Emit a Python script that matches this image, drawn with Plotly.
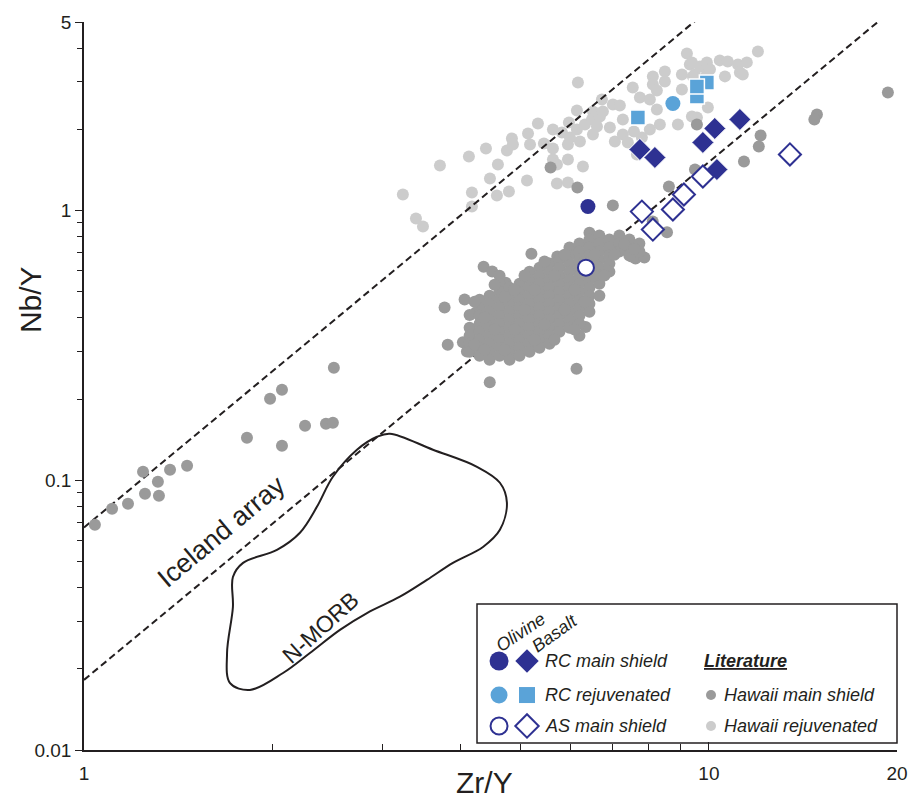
import math
import plotly.graph_objects as go

# ---------------- data ----------------
# Hawaii main shield (literature)
hawaii_main_x = [
    1.041, 1.109, 1.176, 1.243, 1.252, 1.313, 1.318, 1.373, 1.462, 1.823, 1.985, 2.074, 2.074, 2.258, 2.439, 2.502, 2.511,
    5.58, 6.16, 9.568, 9.50, 11.38, 12.02, 12.1, 14.89, 14.75, 19.34, 8.63, 8.13, 8.57, 7.02, 6.44,
    3.776, 4.065, 3.82, 4.36, 5.20, 5.72, 6.14, 4.46, 7.52, 7.63, 6.35, 4.04, 4.10, 4.234, 4.50, 4.73, 4.141, 7.884,
    4.141, 4.141, 4.141, 4.141,
    4.296, 4.296, 4.296, 4.296, 4.296, 4.296, 4.296, 4.296,
    4.457, 4.457, 4.457, 4.457, 4.457, 4.457, 4.457, 4.457, 4.457,
    4.624, 4.624, 4.624, 4.624, 4.624, 4.624, 4.624, 4.624, 4.624, 4.624, 4.624,
    4.798, 4.798, 4.798, 4.798, 4.798, 4.798, 4.798, 4.798, 4.798, 4.798,
    4.977, 4.977, 4.977, 4.977, 4.977, 4.977, 4.977, 4.977, 4.977, 4.977,
    5.164, 5.164, 5.164, 5.164, 5.164, 5.164, 5.164, 5.164, 5.164, 5.164, 5.164,
    5.357, 5.357, 5.357, 5.357, 5.357, 5.357, 5.357, 5.357, 5.357, 5.357, 5.357,
    5.558, 5.558, 5.558, 5.558, 5.558, 5.558, 5.558, 5.558, 5.558, 5.558, 5.558,
    5.766, 5.766, 5.766, 5.766, 5.766, 5.766, 5.766, 5.766, 5.766, 5.766,
    5.983, 5.983, 5.983, 5.983, 5.983, 5.983, 5.983, 5.983, 5.983, 5.983, 5.983,
    6.206, 6.206, 6.206, 6.206, 6.206, 6.206, 6.206, 6.206, 6.206, 6.206, 6.206, 6.206,
    6.439, 6.439, 6.439, 6.439, 6.439, 6.439, 6.439, 6.439, 6.439, 6.439,
    6.680, 6.680, 6.680, 6.680, 6.680, 6.680, 6.680, 6.680,
    6.931, 6.931, 6.931, 6.931, 6.931,
    7.190, 7.190, 7.190,
    7.460, 7.460, 7.460,
    7.740, 7.740,
    4.218, 4.218, 4.376, 4.376, 4.540, 4.540, 4.710, 4.710, 4.887, 4.887, 5.070, 5.070, 5.260, 5.260,
    5.457, 5.457, 5.661, 5.661, 5.874, 5.874, 6.094, 6.094, 6.322, 6.322, 6.559, 6.559, 6.805, 7.060,
    7.325, 7.599,
]
hawaii_main_y = [
    0.0684, 0.0784, 0.0818, 0.1075, 0.0891, 0.0987, 0.0876, 0.1094, 0.1132, 0.1438, 0.2006, 0.2167, 0.1343, 0.1593, 0.1621, 0.1634, 0.2615,
    1.444, 1.217, 2.085, 1.419, 1.52, 1.728, 1.898, 2.271, 2.176, 2.741, 1.228, 0.91, 0.83, 1.045, 0.828,
    0.437, 0.4675, 0.318, 0.619, 0.692, 0.675, 0.259, 0.231, 0.675, 0.664, 0.37, 0.325, 0.300, 0.418, 0.594, 0.54, 0.41, 0.670,
    0.3678, 0.3435, 0.3208, 0.2996,
    0.4672, 0.4363, 0.4075, 0.3806, 0.3554, 0.3319, 0.3100, 0.2895,
    0.4835, 0.4515, 0.4217, 0.3938, 0.3678, 0.3435, 0.3208, 0.2996, 0.2798,
    0.5736, 0.5357, 0.5003, 0.4672, 0.4363, 0.4075, 0.3806, 0.3554, 0.3319, 0.3100, 0.2895,
    0.5177, 0.4835, 0.4515, 0.4217, 0.3938, 0.3678, 0.3435, 0.3208, 0.2996, 0.2798,
    0.5357, 0.5003, 0.4672, 0.4363, 0.4075, 0.3806, 0.3554, 0.3319, 0.3100, 0.2895,
    0.5936, 0.5543, 0.5177, 0.4835, 0.4515, 0.4217, 0.3938, 0.3678, 0.3435, 0.3208, 0.2996,
    0.6142, 0.5736, 0.5357, 0.5003, 0.4672, 0.4363, 0.4075, 0.3806, 0.3554, 0.3319, 0.3100,
    0.6356, 0.5936, 0.5543, 0.5177, 0.4835, 0.4515, 0.4217, 0.3938, 0.3678, 0.3435, 0.3208,
    0.6577, 0.6142, 0.5736, 0.5357, 0.5003, 0.4672, 0.4363, 0.4075, 0.3806, 0.3554,
    0.7288, 0.6806, 0.6356, 0.5936, 0.5543, 0.5177, 0.4835, 0.4515, 0.4217, 0.3938, 0.3678,
    0.7542, 0.7043, 0.6577, 0.6142, 0.5736, 0.5357, 0.5003, 0.4672, 0.4363, 0.4075, 0.3806, 0.3435,
    0.7804, 0.7288, 0.6806, 0.6356, 0.5936, 0.5543, 0.5177, 0.4835, 0.4515, 0.4217,
    0.8076, 0.7542, 0.7043, 0.6577, 0.6142, 0.5736, 0.5357, 0.4835,
    0.7804, 0.7288, 0.6806, 0.6356, 0.5936,
    0.8076, 0.7542, 0.7043,
    0.7804, 0.7288, 0.6806,
    0.7542, 0.7043,
    0.459, 0.318, 0.305, 0.401, 0.531, 0.362, 0.479, 0.305, 0.509, 0.362, 0.574, 0.429, 0.332, 0.509,
    0.647, 0.378, 0.574, 0.332, 0.686, 0.429, 0.509, 0.362, 0.647, 0.459, 0.574, 0.686, 0.574, 0.686,
    0.750, 0.720,
]

# Hawaii rejuvenated (literature)
hawaii_rejuv_x = [
    3.238, 3.398, 3.487, 3.712, 4.130, 4.176, 4.176, 4.398, 4.463, 4.579, 4.596, 4.751, 4.786, 4.839, 4.857,
    5.135, 5.116, 5.173, 5.326, 5.445, 5.629, 5.629, 5.629, 5.712, 5.712, 5.819, 5.949, 5.949, 5.949, 5.970,
    5.992, 6.149, 6.149, 6.172, 6.287, 6.333, 6.218, 6.523, 6.499, 6.523, 6.620, 6.693, 6.742, 6.767, 6.943,
    7.020, 7.203, 7.072, 7.283, 7.283, 7.419, 7.554, 7.586, 7.755, 7.812, 8.045, 8.045, 8.135, 8.135, 8.256,
    8.256, 8.347, 8.503, 8.503, 8.921, 9.054, 9.054, 9.222, 9.323, 9.393, 9.428, 9.393, 9.568, 9.497, 9.674,
    9.926, 9.926, 9.963, 10.04, 10.41, 10.61, 10.72, 11.13, 11.21, 11.33, 11.50, 11.98, 7.670,
]
hawaii_rejuv_y = [
    1.147, 0.934, 0.872, 1.469, 1.586, 1.166, 1.035, 1.699, 1.314, 1.137, 1.481, 1.670, 1.176, 1.850, 1.758,
    1.930, 1.292, 1.758, 2.103, 1.772, 1.998, 1.699, 1.546, 1.481, 1.259, 1.947, 1.758, 1.546, 1.270, 2.121,
    1.866, 2.350, 1.998, 2.985, 1.457, 2.085, 1.803, 2.330, 2.176, 1.914, 2.050, 2.233, 2.581, 2.330, 2.032,
    2.474, 2.453, 1.803, 2.176, 1.914, 1.788, 2.860, 1.964, 2.626, 1.866, 2.581, 1.998, 3.143, 2.934, 2.788,
    2.370, 2.085, 3.280, 3.010, 2.085, 3.197, 2.812, 3.824, 3.481, 3.542, 3.143, 2.233, 2.214, 3.197, 3.422,
    3.542, 3.197, 2.411, 3.337, 3.603, 3.143, 3.572, 3.481, 3.252, 3.197, 3.542, 3.890, 1.614,
]

# This study
rc_main_ol_x = [6.404]
rc_main_ol_y = [1.035]
rc_main_bas_x = [7.755, 8.196, 9.781, 10.22, 11.21, 10.30]
rc_main_bas_y = [1.684, 1.573, 1.788, 2.015, 2.176, 1.419]
rc_rej_ol_x = [8.758]
rc_rej_ol_y = [2.495]
rc_rej_bas_x = [9.926, 9.568, 9.568, 7.698]
rc_rej_bas_y = [2.985, 2.649, 2.885, 2.214]
as_main_ol_x = [6.357]
as_main_ol_y = [0.614]
as_main_bas_x = [7.812, 8.135, 8.758, 9.120, 9.781, 13.48]
as_main_bas_y = [0.991, 0.850, 1.009, 1.147, 1.337, 1.614]

# N-MORB field outline
nmorb_x = [3.088, 3.617, 4.255, 4.630, 4.751, 4.630, 4.350, 3.894, 3.538, 3.203, 2.837, 2.568, 2.299, 2.082,
           1.843, 1.713, 1.694, 1.731, 1.731, 1.797, 2.036, 2.216, 2.359, 2.502, 2.734, 2.944, 3.088]
nmorb_y = [0.1488, 0.1298, 0.1122, 0.0979, 0.0825, 0.0655, 0.0566, 0.0494, 0.0427, 0.0370, 0.0322, 0.0279, 0.0229, 0.0193,
           0.0167, 0.0177, 0.0229, 0.0339, 0.0438, 0.0494, 0.0552, 0.0639, 0.0797, 0.1030, 0.1298, 0.1450, 0.1488]

# Iceland array bounding lines: log(Nb/Y) = slope*log(Zr/Y) + intercept
iceland_slope = 1.92
iceland_intercepts = [-1.175, -1.74]

x_range = [1, 20]
y_range = [0.01, 5]
x_tick_vals = [1, 10, 20]
x_minor_vals = [2, 3, 4, 5, 6, 7, 8, 9]
y_tick_vals = [0.01, 0.1, 1, 5]
y_minor_vals = [0.02, 0.03, 0.04, 0.05, 0.06, 0.07, 0.08, 0.09, 0.2, 0.3, 0.4, 0.5, 0.6, 0.7, 0.8, 0.9, 2, 3, 4]

# ---------------- styles ----------------
FONT = "Liberation Sans, Arial, Helvetica, sans-serif"
NAVY = "#2e3192"
LBLUE = "#5aa3d8"
DGREY = "#9a9a9a"
LGREY = "#cccccc"
INK = "#231f20"
DOT = 12

fig = go.Figure()

fig.add_trace(go.Scatter(x=hawaii_rejuv_x, y=hawaii_rejuv_y, mode="markers",
                         marker=dict(size=DOT, color=LGREY, line=dict(width=0)), hoverinfo="skip"))

for b in iceland_intercepts:
    xs = [x_range[0], x_range[1]]
    ys = [10 ** (b + iceland_slope * math.log10(v)) for v in xs]
    fig.add_trace(go.Scatter(x=xs, y=ys, mode="lines",
                             line=dict(color=INK, width=2, dash="7px,4px"), hoverinfo="skip"))

fig.add_trace(go.Scatter(x=hawaii_main_x, y=hawaii_main_y, mode="markers",
                         marker=dict(size=DOT, color=DGREY, line=dict(width=0)), hoverinfo="skip"))

fig.add_trace(go.Scatter(x=nmorb_x, y=nmorb_y, mode="lines",
                         line=dict(color=INK, width=2, shape="spline", smoothing=1.0), hoverinfo="skip"))

fig.add_trace(go.Scatter(x=rc_rej_bas_x, y=rc_rej_bas_y, mode="markers",
                         marker=dict(symbol="square", size=15, color=LBLUE, line=dict(width=1.5, color="white"))))
fig.add_trace(go.Scatter(x=rc_rej_ol_x, y=rc_rej_ol_y, mode="markers",
                         marker=dict(symbol="circle", size=15, color=LBLUE, line=dict(width=0))))
fig.add_trace(go.Scatter(x=rc_main_bas_x, y=rc_main_bas_y, mode="markers",
                         marker=dict(symbol="diamond", size=17, color=NAVY, line=dict(width=1, color="white"))))
fig.add_trace(go.Scatter(x=rc_main_ol_x, y=rc_main_ol_y, mode="markers",
                         marker=dict(symbol="circle", size=15, color=NAVY, line=dict(width=0))))
fig.add_trace(go.Scatter(x=as_main_bas_x, y=as_main_bas_y, mode="markers",
                         marker=dict(symbol="diamond", size=17, color="white", line=dict(width=2, color=NAVY))))
fig.add_trace(go.Scatter(x=as_main_ol_x, y=as_main_ol_y, mode="markers",
                         marker=dict(symbol="circle", size=16, color="white", line=dict(width=2, color=NAVY))))

# ---------------- legend box (drawn in overlay axes 0..1) ----------------
leg_rows = [0.1223, 0.0755, 0.0330]
leg_col_ol = 0.5105
leg_col_bas = 0.5449
leg_col_lit = 0.7712

legend_markers = [
    (leg_col_ol, leg_rows[0], dict(symbol="circle", size=19, color=NAVY, line=dict(width=0))),
    (leg_col_bas, leg_rows[0], dict(symbol="diamond", size=18, color=NAVY, line=dict(width=0))),
    (leg_col_ol, leg_rows[1], dict(symbol="circle", size=17, color=LBLUE, line=dict(width=0))),
    (leg_col_bas, leg_rows[1], dict(symbol="square", size=16, color=LBLUE, line=dict(width=0))),
    (leg_col_ol, leg_rows[2], dict(symbol="circle", size=17, color="white", line=dict(width=2, color=NAVY))),
    (leg_col_bas, leg_rows[2], dict(symbol="diamond", size=18, color="white", line=dict(width=2, color=NAVY))),
    (leg_col_lit, leg_rows[1], dict(symbol="circle", size=10, color=DGREY, line=dict(width=0))),
    (leg_col_lit, leg_rows[2], dict(symbol="circle", size=10, color=LGREY, line=dict(width=0))),
]
for lx, ly, mk in legend_markers:
    fig.add_trace(go.Scatter(x=[lx], y=[ly], mode="markers", marker=mk, xaxis="x2", yaxis="y2",
                             hoverinfo="skip"))

fig.add_shape(type="rect", xref="paper", yref="paper", x0=0.4834, x1=1.0, y0=0.0096, y1=0.2005,
              line=dict(color=INK, width=1.5), fillcolor="rgba(255,255,255,0)")

ann_font = dict(family=FONT, size=18, color=INK)
legend_texts = [
    (0.5640, leg_rows[0], "<i>RC main shield</i>"),
    (0.5640, leg_rows[1], "<i>RC rejuvenated</i>"),
    (0.5640, leg_rows[2], "<i>AS main shield</i>"),
    (0.7600, leg_rows[0], "<b><i><u>Literature</u></i></b>"),
    (0.7845, leg_rows[1], "<i>Hawaii main shield</i>"),
    (0.7845, leg_rows[2], "<i>Hawaii rejuvenated</i>"),
]
for tx, ty, t in legend_texts:
    fig.add_annotation(x=tx, y=ty, xref="paper", yref="paper", text=t, showarrow=False,
                       xanchor="left", yanchor="middle", font=ann_font)
fig.add_annotation(x=0.5375, y=0.1621, xref="paper", yref="paper", text="<i>Olivine</i>", showarrow=False,
                   textangle=-34, xanchor="center", yanchor="middle", font=ann_font)
fig.add_annotation(x=0.5793, y=0.1607, xref="paper", yref="paper", text="<i>Basalt</i>", showarrow=False,
                   textangle=-36, xanchor="center", yanchor="middle", font=ann_font)

# field labels
fig.add_annotation(x=0.1697, y=0.3008, xref="paper", yref="paper", text="Iceland array", showarrow=False,
                   textangle=-40, xanchor="center", yanchor="middle",
                   font=dict(family=FONT, size=27, color=INK))
fig.add_annotation(x=0.2903, y=0.1676, xref="paper", yref="paper", text="N-MORB", showarrow=False,
                   textangle=-42, xanchor="center", yanchor="middle",
                   font=dict(family=FONT, size=23, color=INK))

# axis titles
fig.add_annotation(x=-0.0664, y=0.618, xref="paper", yref="paper", text="Nb/Y", showarrow=False,
                   textangle=-90, xanchor="center", yanchor="middle",
                   font=dict(family=FONT, size=30, color=INK))
fig.add_annotation(x=0.4932, y=-0.044, xref="paper", yref="paper", text="Zr/Y", showarrow=False,
                   xanchor="center", yanchor="middle", font=dict(family=FONT, size=30, color=INK))

tickfont = dict(family=FONT, size=19, color=INK)
fig.update_layout(
    width=909, height=798,
    margin=dict(l=84, r=12, t=22, b=48, autoexpand=False),
    paper_bgcolor="white", plot_bgcolor="white",
    showlegend=False,
    xaxis=dict(type="log", range=[math.log10(x_range[0]), math.log10(x_range[1])], automargin=False,
               tickmode="array", tickvals=x_tick_vals, ticktext=[str(v) for v in x_tick_vals],
               ticks="inside", ticklen=8, tickwidth=1.2, tickcolor=INK,
               minor=dict(tickmode="array", tickvals=x_minor_vals, ticks="inside", ticklen=6,
                          tickwidth=1.2, tickcolor=INK, showgrid=False),
               showline=True, linecolor=INK, linewidth=1.6, showgrid=False, zeroline=False,
               tickfont=tickfont, ticklabelstandoff=5),
    yaxis=dict(type="log", range=[math.log10(y_range[0]), math.log10(y_range[1])], automargin=False,
               tickmode="array", tickvals=y_tick_vals, ticktext=["0.01", "0.1", "1", "5"],
               ticks="outside", ticklen=7, tickwidth=1.2, tickcolor=INK,
               minor=dict(tickmode="array", tickvals=y_minor_vals, ticks="outside", ticklen=5,
                          tickwidth=1.2, tickcolor=INK, showgrid=False),
               showline=True, linecolor=INK, linewidth=1.6, showgrid=False, zeroline=False,
               tickfont=tickfont, ticklabelstandoff=0),
    xaxis2=dict(overlaying="x", range=[0, 1], visible=False, fixedrange=True),
    yaxis2=dict(overlaying="y", range=[0, 1], visible=False, fixedrange=True),
)

fig.write_html("out.html")
